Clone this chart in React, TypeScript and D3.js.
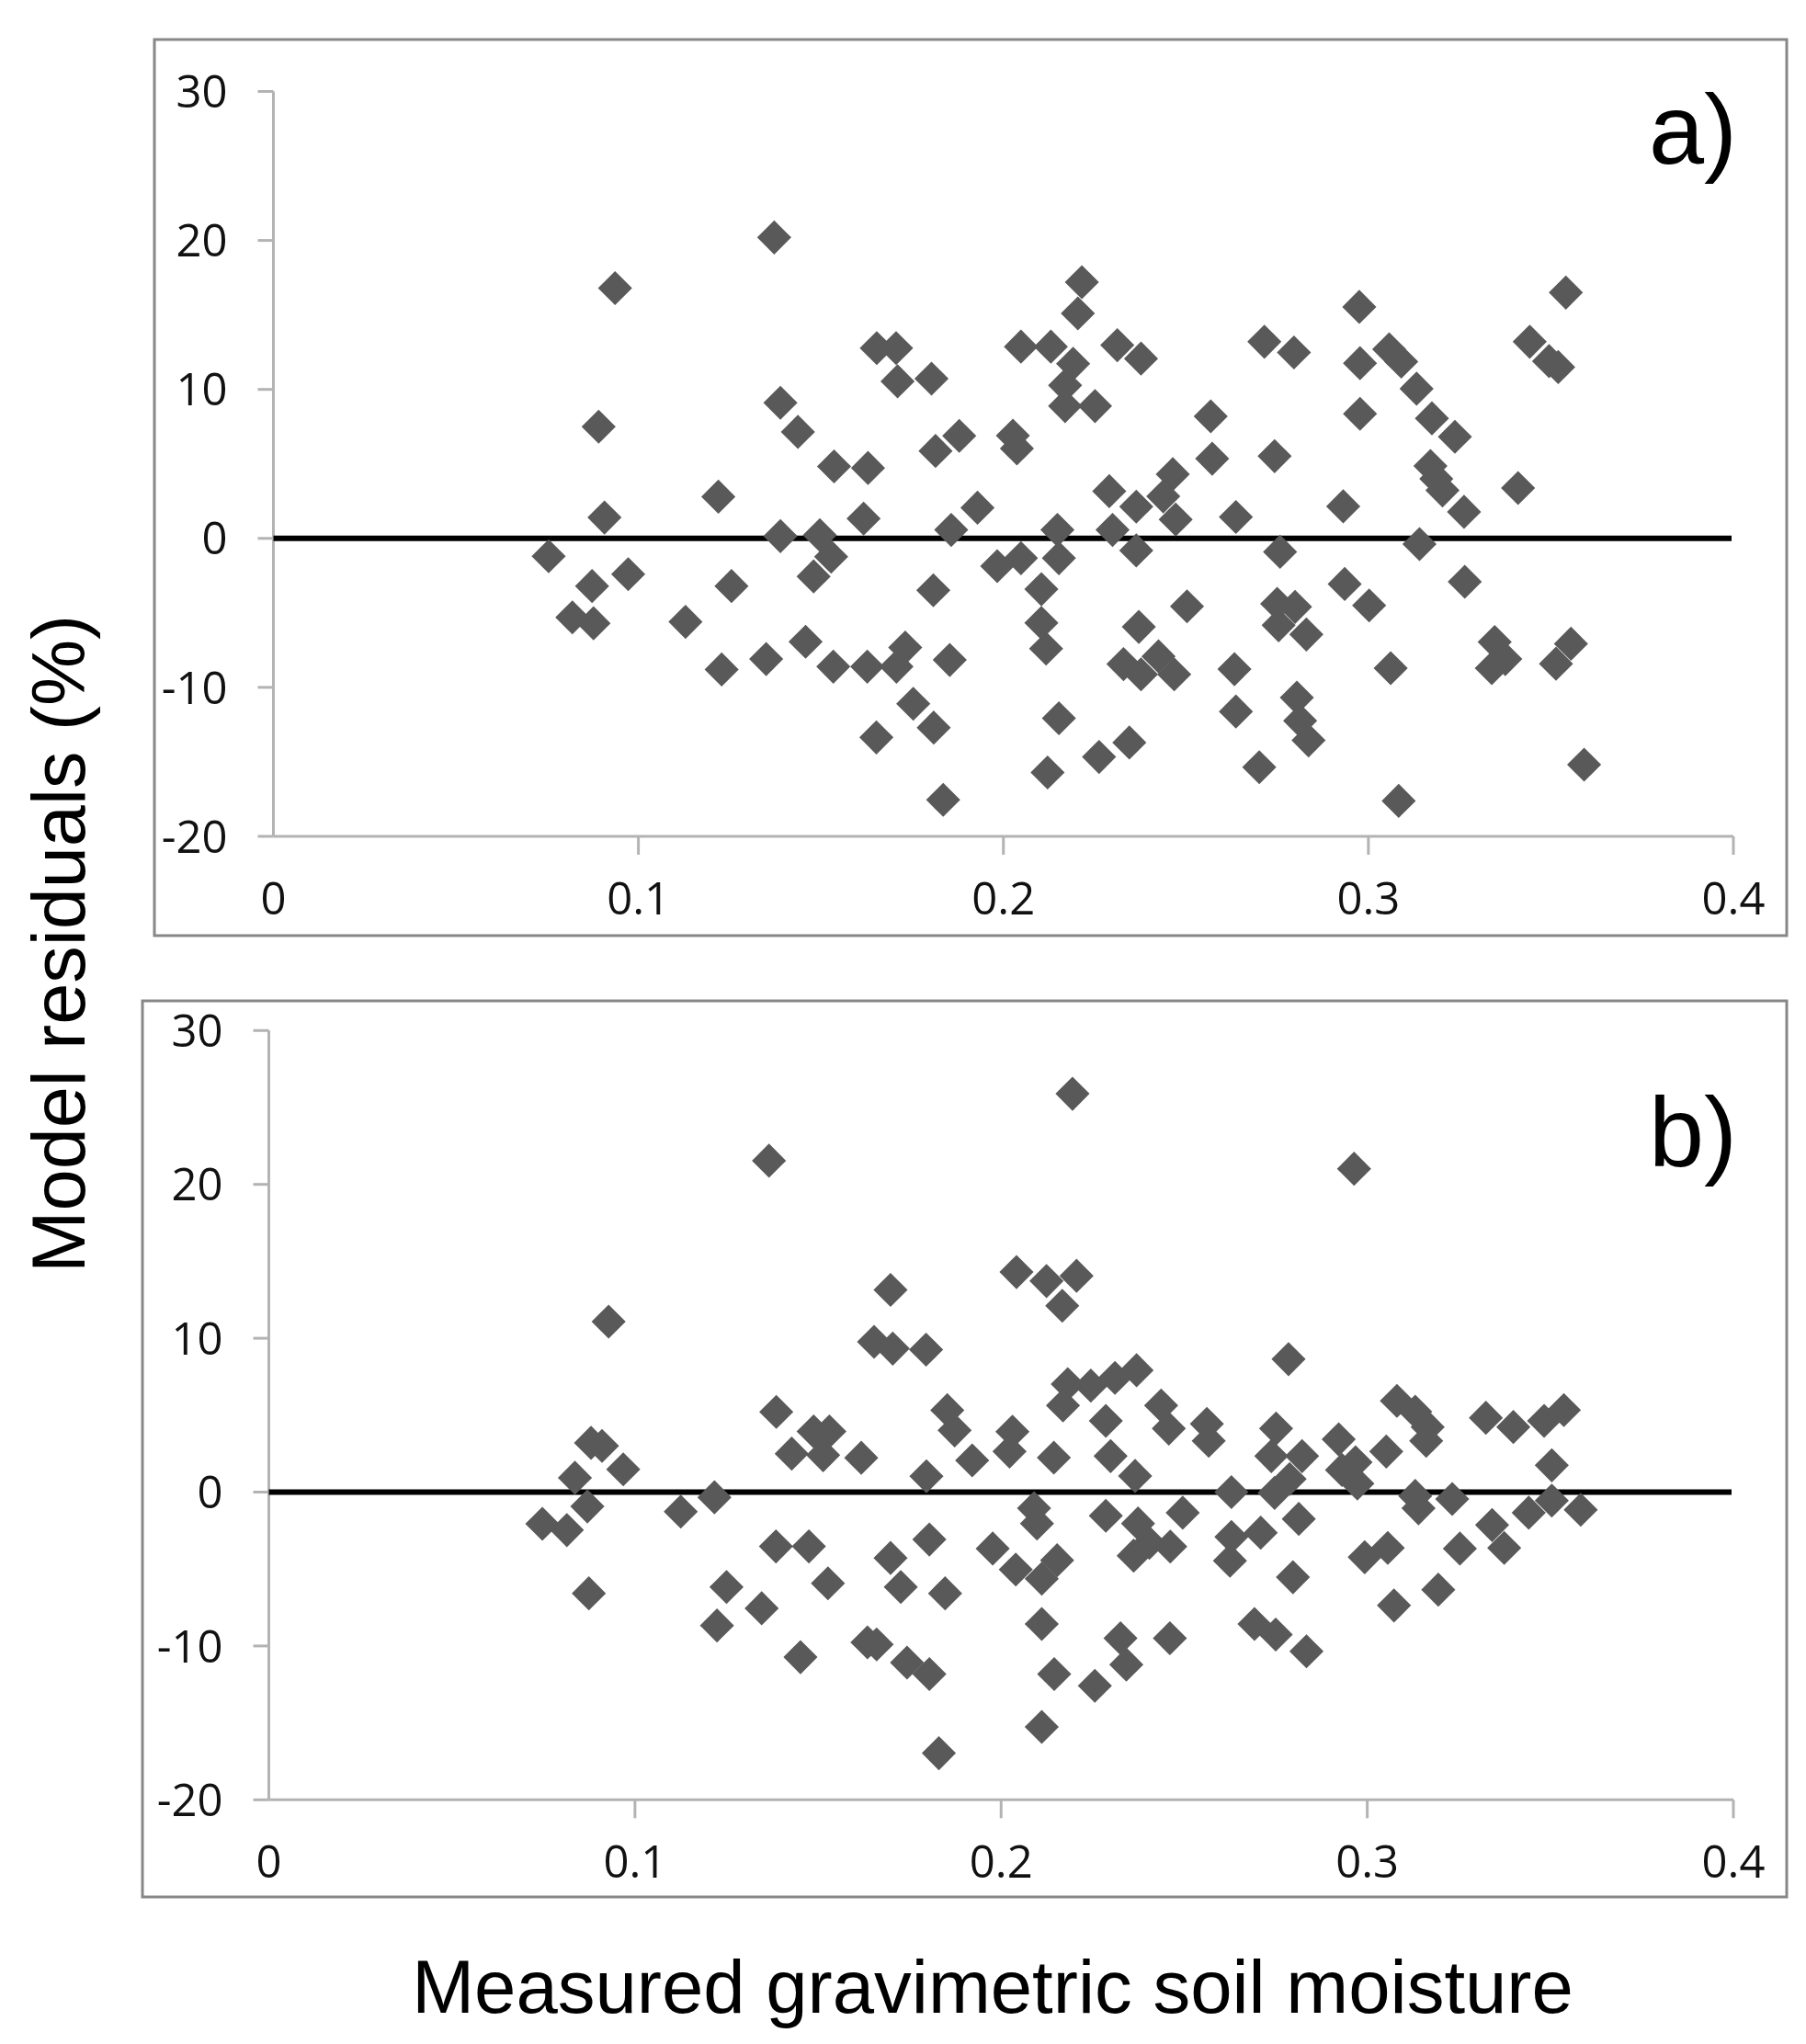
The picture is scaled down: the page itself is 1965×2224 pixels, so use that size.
import React from 'react';
import * as d3 from 'd3';

// ---------- data ----------
const xTickValues = [0, 0.1, 0.2, 0.3, 0.4];
const xTickLabels = ['0', '0.1', '0.2', '0.3', '0.4'];
const yTickValues = [-20, -10, 0, 10, 20, 30];
const yTickLabels = ['-20', '-10', '0', '10', '20', '30'];
const yAxisTitle = 'Model residuals (%)';
const xAxisTitle = 'Measured gravimetric soil moisture';
const panelLabels = ['a)', 'b)'];

// panel a: [measured gravimetric soil moisture, model residual %]
const residualsA: [number, number][] = [
  [0.0936, 16.8], [0.0891, 7.5], [0.0907, 1.4], [0.0754, -1.2], [0.0972, -2.4], [0.0873, -3.2],
  [0.0819, -5.3], [0.0877, -5.7], [0.1129, -5.6], [0.1219, 2.8], [0.1255, -3.2], [0.1228, -8.8],
  [0.135, -8.1], [0.1372, 20.2], [0.1389, 9.1], [0.1389, 0.15],
  [0.1437, 7.15], [0.1536, 4.83], [0.1629, 4.73], [0.1653, 12.77], [0.1706, 12.77], [0.171, 10.54],
  [0.1803, 10.72], [0.1497, 0.22], [0.1528, -1.23], [0.148, -2.55], [0.1617, 1.33], [0.1458, -6.94],
  [0.1534, -8.61], [0.1627, -8.61], [0.1731, -7.33], [0.1707, -8.61], [0.1853, -8.16], [0.1753, -11.1],
  [0.1809, -12.7], [0.1652, -13.36], [0.1835, -17.55], [0.1808, -3.48], [0.1814, 5.87], [0.1879, 6.88],
  [0.1857, 0.57], [0.1929, 2.06], [0.2026, 6.9], [0.2037, 6.04], [0.1983, -1.86], [0.2048, -1.33],
  [0.2048, 12.87], [0.213, 12.87], [0.2215, 17.2], [0.2204, 15.1], [0.2191, 11.72], [0.2169, 10.27],
  [0.2169, 8.88], [0.2251, 8.88], [0.2148, 0.57], [0.2152, -1.33], [0.2104, -3.41], [0.2104, -5.67],
  [0.2117, -7.4], [0.229, 3.17], [0.2299, 0.57], [0.2364, 2.13], [0.2364, -0.81], [0.2464, 4.31],
  [0.2438, 2.82], [0.2472, 1.27], [0.2568, 8.19], [0.2572, 5.35], [0.2637, 1.44], [0.2312, 12.97],
  [0.2377, 12.07], [0.2503, -4.56], [0.2371, -5.94], [0.2329, -8.44], [0.2377, -9.13], [0.2425, -7.92],
  [0.2468, -9.13], [0.2633, -8.78], [0.2637, -11.62], [0.2152, -12.07], [0.2121, -15.71], [0.2262, -14.67],
  [0.2345, -13.7],
  [0.2715, 13.2], [0.2796, 12.48], [0.2743, 5.52], [0.2758, -0.9], [0.275, -4.39], [0.2799, -4.6],
  [0.2754, -5.83], [0.283, -6.45], [0.2804, -10.69], [0.2813, -12.25], [0.2836, -13.56], [0.2701, -15.36],
  [0.2975, 15.54], [0.2977, 11.76], [0.2977, 8.36], [0.2931, 2.15], [0.2935, -3.06], [0.3002, -4.5],
  [0.3061, -8.71], [0.3083, -17.62], [0.3057, 12.69], [0.309, 11.86], [0.3132, 10.05], [0.3174, 8.06],
  [0.3237, 6.82], [0.317, 4.86], [0.3186, 4.0], [0.3203, 3.22], [0.3262, 1.78], [0.314, -0.38],
  [0.3264, -2.91], [0.341, 3.38], [0.3541, 16.5], [0.3442, 13.2], [0.3495, 11.9], [0.352, 11.5],
  [0.3346, -6.96], [0.3375, -8.1], [0.3338, -8.71], [0.3555, -7.07], [0.3514, -8.41], [0.3591, -15.19],
];

// panel b
const residualsB: [number, number][] = [
  [0.0928, 11.08], [0.088, 3.2], [0.091, 3.0], [0.0968, 1.48], [0.0836, 0.93], [0.087, -0.93],
  [0.0747, -2.06], [0.0814, -2.47], [0.0874, -6.58], [0.1125, -1.27], [0.1217, -0.34], [0.125, -6.17],
  [0.1224, -8.67], [0.1346, -7.55], [0.1366, 21.54], [0.1386, 5.21], [0.1385, -3.53],
  [0.1475, -3.53], [0.1527, -5.93], [0.1452, -10.73], [0.1428, 2.5], [0.1488, 3.94], [0.1531, 3.94],
  [0.1514, 2.4], [0.1618, 2.23], [0.1698, 13.14], [0.1653, 9.77], [0.1704, 9.33], [0.1795, 9.26],
  [0.1853, 5.32], [0.1873, 4.01], [0.1796, 1.03], [0.1921, 2.06], [0.2031, 3.93], [0.2023, 2.64],
  [0.2144, 2.24], [0.2042, 14.3], [0.2124, 13.72], [0.2206, 14.06], [0.2167, 12.11], [0.2195, 25.89],
  [0.2182, 7.02], [0.2245, 6.92], [0.2311, 7.42], [0.237, 7.92], [0.2169, 5.63], [0.2286, 4.63],
  [0.2299, 2.34], [0.2366, 1.05], [0.2437, 5.63], [0.2458, 4.13], [0.2562, 4.43], [0.2567, 3.33],
  [0.2629, 0.0], [0.209, -1.05], [0.2098, -2.04], [0.1804, -3.08], [0.1698, -4.28], [0.1726, -6.17],
  [0.1847, -6.58], [0.1977, -3.67], [0.204, -5.03], [0.2153, -4.43], [0.2111, -5.63], [0.2111, -8.57],
  [0.1635, -9.77], [0.166, -9.9], [0.1743, -11.08], [0.1804, -11.83], [0.183, -16.97], [0.2145, -11.83],
  [0.2111, -15.26], [0.2256, -12.59], [0.2326, -9.5], [0.2342, -11.21], [0.2461, -9.5], [0.2286, -1.54],
  [0.2374, -2.04], [0.2362, -4.13], [0.2405, -3.3], [0.2462, -3.54], [0.2496, -1.34], [0.2629, -2.91],
  [0.2625, -4.46],
  [0.2964, 21.02], [0.2785, 8.64], [0.2751, 4.13], [0.2738, 2.34], [0.2822, 2.34], [0.2788, 0.85],
  [0.2747, -0.05], [0.2813, -1.74], [0.2709, -2.64], [0.2797, -5.53], [0.2692, -8.57], [0.275, -9.26],
  [0.2834, -10.35], [0.2922, 3.43], [0.2968, 1.94], [0.2931, 1.44], [0.2973, 0.55], [0.3052, 2.64],
  [0.3081, 5.93], [0.3131, 5.23], [0.3165, 4.23], [0.3161, 3.33], [0.3324, 4.83], [0.3399, 4.23],
  [0.3483, 4.63], [0.3537, 5.33], [0.3504, 1.74], [0.3131, -0.25], [0.314, -1.05], [0.3232, -0.45],
  [0.3504, -0.55], [0.3441, -1.34], [0.3583, -1.15], [0.3253, -3.67], [0.3341, -2.14], [0.3374, -3.63],
  [0.2993, -4.23], [0.3056, -3.63], [0.3073, -7.37], [0.3194, -6.34],
];

// ---------- layout / style ----------
const W = 1965;
const H = 2224;
const MARKER = '#595959';
const AXIS = '#b3b3b3';
const FRAME = '#878787';
const TICK_FONT = '"Open Sans", "Liberation Sans", sans-serif';
const TITLE_FONT = '"Liberation Sans", Arial, sans-serif';

type PanelCfg = {
  data: [number, number][];
  label: string;
  frame: [number, number, number, number];
  xRange: [number, number];
  yRange: [number, number];
  labelBaseline: number;
};

const panels: PanelCfg[] = [
  {
    data: residualsA,
    label: panelLabels[0],
    frame: [168, 43, 1944, 1018],
    xRange: [297.5, 1886],
    yRange: [910, 99.5],
    labelBaseline: 178,
  },
  {
    data: residualsB,
    label: panelLabels[1],
    frame: [155, 1089, 1944, 2064],
    xRange: [292.5, 1886],
    yRange: [1958.3, 1121.3],
    labelBaseline: 1269,
  },
];

const diamondPath = d3.symbol().type(d3.symbolSquare).size(690)() as string;

function Panel({ cfg }: { cfg: PanelCfg }) {
  const x = d3.scaleLinear().domain([0, 0.4]).range(cfg.xRange);
  const y = d3.scaleLinear().domain([-20, 30]).range(cfg.yRange);
  const [fx0, fy0, fx1, fy1] = cfg.frame;
  const x0 = x(0);
  const yBottom = y(-20);
  return (
    <g>
      <rect x={fx0} y={fy0} width={fx1 - fx0} height={fy1 - fy0} fill="#ffffff" stroke={FRAME} strokeWidth={3} />
      {/* y axis */}
      <line x1={x0} x2={x0} y1={y(30)} y2={yBottom} stroke={AXIS} strokeWidth={3} />
      {yTickValues.map((v, i) => (
        <g key={'yt' + v}>
          <line x1={x0 - 17} x2={x0} y1={y(v)} y2={y(v)} stroke={AXIS} strokeWidth={3} />
          <text
            x={x0 - 50}
            y={y(v)}
            dy="0.36em"
            textAnchor="end"
            fontFamily={TICK_FONT}
            fontSize={49}
            fill="#111"
          >
            {yTickLabels[i]}
          </text>
        </g>
      ))}
      {/* x axis */}
      <line x1={x0} x2={x(0.4)} y1={yBottom} y2={yBottom} stroke={AXIS} strokeWidth={3} />
      {xTickValues.map((v, i) => (
        <g key={'xt' + v}>
          {v > 0 && <line x1={x(v)} x2={x(v)} y1={yBottom} y2={yBottom + 20} stroke={AXIS} strokeWidth={3} />}
          <text
            x={x(v)}
            y={yBottom + 67}
            dy="0.36em"
            textAnchor="middle"
            fontFamily={TICK_FONT}
            fontSize={49}
            fill="#111"
          >
            {xTickLabels[i]}
          </text>
        </g>
      ))}
      {/* zero line */}
      <line x1={x0} x2={x(0.4) - 2} y1={y(0)} y2={y(0)} stroke="#000" strokeWidth={6} />
      {/* points */}
      {cfg.data.map(([mx, r], i) => (
        <path key={i} d={diamondPath} transform={`translate(${x(mx)},${y(r)}) rotate(45)`} fill={MARKER} />
      ))}
      <text
        x={1890}
        y={cfg.labelBaseline}
        textAnchor="end"
        fontFamily={TITLE_FONT}
        fontSize={108}
        fill="#000"
      >
        {cfg.label}
      </text>
    </g>
  );
}

export default function App() {
  return (
    <svg
      width={W}
      height={H}
      viewBox={`0 0 ${W} ${H}`}
      style={{ position: 'absolute', left: 0, top: 0, background: '#fff' }}
    >
      <rect x={0} y={0} width={W} height={H} fill="#fff" />
      {panels.map((p, i) => (
        <Panel key={i} cfg={p} />
      ))}
      <text
        transform="translate(92,1027) rotate(-90)"
        textAnchor="middle"
        fontFamily={TITLE_FONT}
        fontSize={81}
        fill="#000"
      >
        {yAxisTitle}
      </text>
      <text x={1080} y={2190} textAnchor="middle" fontFamily={TITLE_FONT} fontSize={81.5} fill="#000">
        {xAxisTitle}
      </text>
    </svg>
  );
}
